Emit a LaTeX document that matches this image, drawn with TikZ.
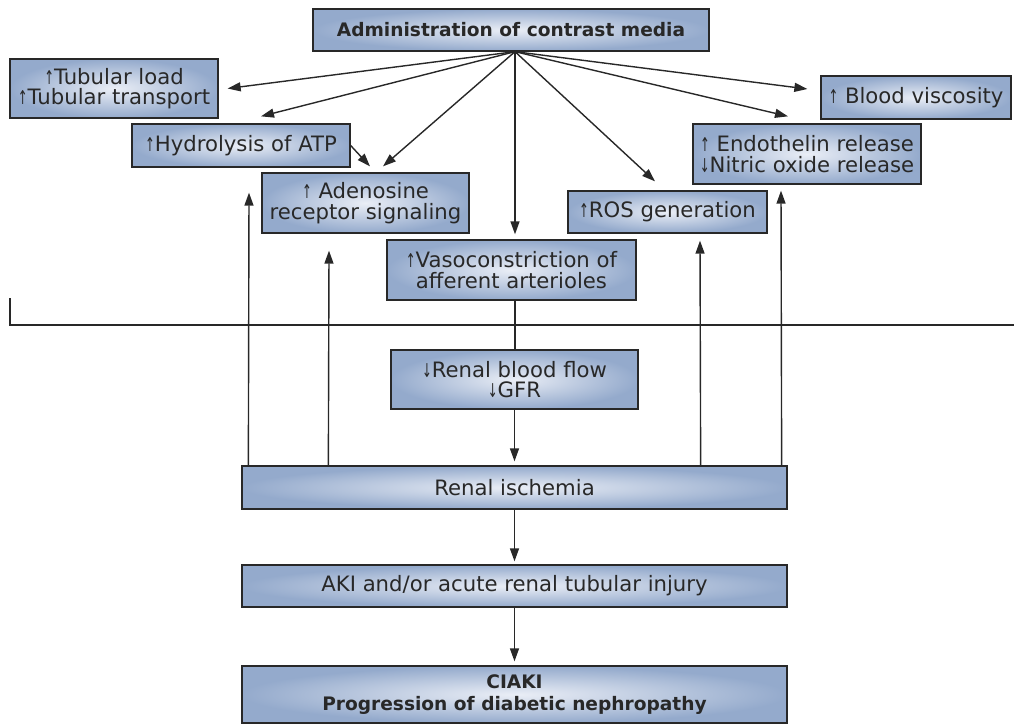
\documentclass[tikz,border=0pt]{standalone}
\usepackage{fontspec}
\setmainfont{DejaVu Sans}
\usepackage{graphicx}
\usetikzlibrary{arrows.meta}
\usetikzlibrary{calc}
\definecolor{boxblue}{RGB}{148,170,204}
\definecolor{boxlight}{RGB}{234,238,246}
\definecolor{inkgray}{RGB}{40,40,40}
\newcommand{\uparr}{\scalebox{0.55}[0.9]{↑}}
\newcommand{\dnarr}{\scalebox{0.55}[0.9]{↓}}

\begin{document}
\begin{tikzpicture}[
  x=1pt, y=-1pt,
  box/.style={draw=inkgray, line width=1.3pt, inner color=boxlight, outer color=boxblue,
    text=inkgray, align=center, inner sep=1pt, font=\fontsize{21.2}{20.5}\selectfont},
  sz/.style 2 args={minimum width=#1pt, minimum height=#2pt},
  bold/.style={font=\fontsize{18.6}{22}\selectfont\bfseries},
  arr/.style={draw=inkgray, line width=1.4pt, -{Triangle[length=13pt,width=9pt]}},
  link/.style={draw=inkgray, line width=1.4pt}
]
\useasboundingbox (0,0) rectangle (1014,725);

% upper part
\node[box, bold, sz={396}{42}] (admin) at (511,30) {Administration of contrast media};
\node[box, sz={208}{59}] (tub) at (114,88.5) {\uparr Tubular load\\\uparr Tubular transport};
\node[box, sz={218}{43}] (hydro) at (241,145.5) {\uparr Hydrolysis of ATP};
\node[box, sz={207}{60}] (adeno) at (365.5,203) {\uparr\ Adenosine\\receptor signaling};
\node[box, sz={249}{60}] (vaso) at (511.5,270) {\uparr Vasoconstriction of\\afferent arterioles};
\node[box, sz={199}{42}] (ros) at (667.5,212) {\uparr ROS generation};
\node[box, sz={228}{60}] (endo) at (807,154) {\uparr\ Endothelin release\\\dnarr Nitric oxide release};
\node[box, sz={190}{43}] (blood) at (916,97.5) {\uparr\ Blood viscosity};

% lower part
\node[box, sz={247}{59}] (rbf) at (514.5,379.5) {\dnarr Renal blood flow\\\dnarr GFR};
\node[box, sz={545}{43}] (isch) at (514.5,487.5) {Renal ischemia};
\node[box, sz={545}{42}] (aki) at (514.5,586) {AKI and/or acute renal tubular injury};
\node[box, bold, sz={545}{57}] (ciaki) at (514.5,694.5) {CIAKI\\Progression of diabetic nephropathy};

\coordinate (hub) at ($(admin.south)+(4,0)$);

% fan of arrows from the top box
\draw[arr] (hub) -- ($(tub.east)+(9,0)$);
\draw[arr] (hub) -- ($(hydro.north)+(20,-7)$);
\draw[arr] (hub) -- ($(adeno.north)+(17.5,-6)$);
\draw[arr] (hydro.east) -- ($(adeno.north)+(4.5,-6)$);
\draw[arr] (hub) -- ($(vaso.north -| hub)+(0,-5)$);
\draw[arr] (hub) -- ($(ros.north)+(-12.5,-9)$);
\draw[arr] (hub) -- ($(endo.north)+(-19,-7)$);
\draw[arr] (hub) -- ($(blood.west)+(-13,-8.5)$);

% divider
\coordinate (dl) at (10,298);
\coordinate (dc) at (10,325);
\coordinate (dr) at (1014,325);
\draw[link] (dl) -- (dc) -- (dr);

% main chain
\draw[link] (vaso.south -| hub) -- (rbf.north -| hub);
\draw[arr, shorten >=4pt] (rbf) -- (isch);
\draw[arr, shorten >=3pt] (isch) -- (aki);
\draw[arr, shorten >=4pt] (aki) -- (ciaki);

% feedback from ischemia
\draw[arr] ($(isch.north west)+(7,0)$) -- ($(hydro.south)+(8,25)$);
\draw[arr] ($(isch.north west)+(87,0)$) -- ($(adeno.south)+(-36.5,17)$);
\draw[arr] ($(isch.north east)+(-87,0)$) -- ($(ros.south)+(32.5,7)$);
\draw[arr] ($(isch.north east)+(-6,0)$) -- ($(endo.south)+(-26,6)$);
\end{tikzpicture}
\end{document}
